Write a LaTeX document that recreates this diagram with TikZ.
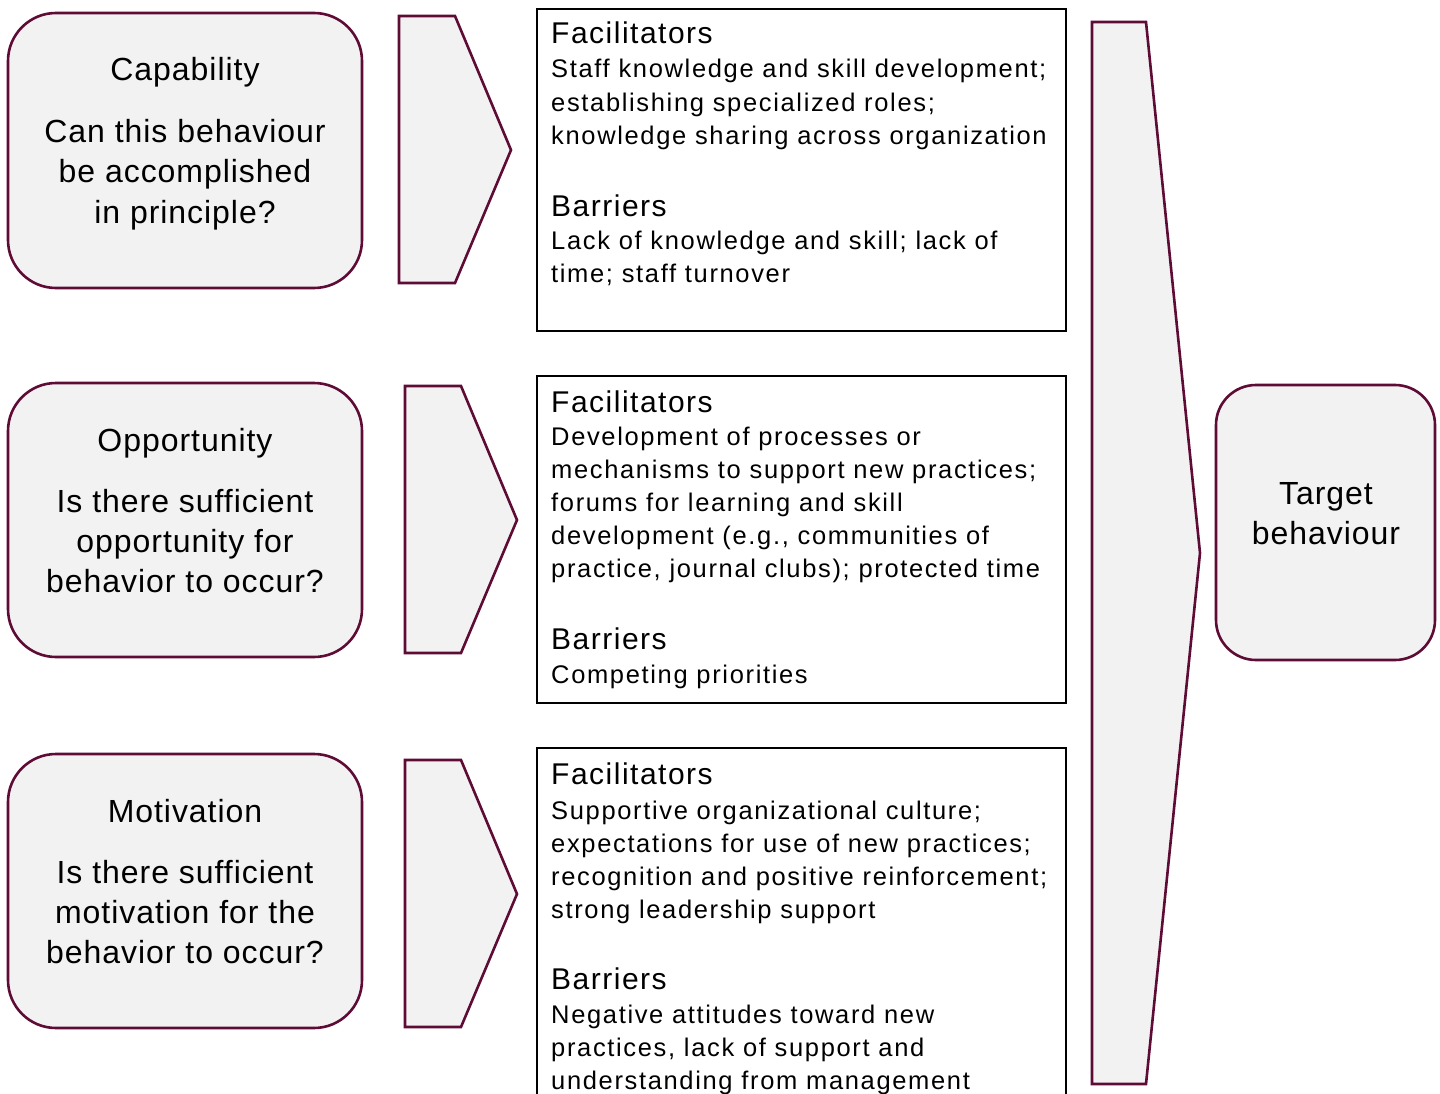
\documentclass[tikz,border=0pt]{standalone}
\usepackage{fontspec}
\setmainfont{Liberation Sans}
\newfontfamily\bodyfont[LetterSpace=6.5]{Liberation Sans}
\newfontfamily\headfont[LetterSpace=5]{Liberation Sans}
\newfontfamily\boxfont[LetterSpace=3]{Liberation Sans}
\definecolor{maroon}{HTML}{5E0B35}
\definecolor{panel}{HTML}{F2F2F2}
\tikzset{
  roundbox/.style={draw=maroon, fill=panel, line width=2.6pt, rounded corners=48pt},
  chevron/.style={draw=maroon, fill=panel, line width=2.6pt, line join=miter},
  textframe/.style={draw=black, line width=2pt},
  boxtxt/.style={inner sep=0pt, anchor=base, font=\boxfont\fontsize{32}{36}\selectfont},
  headtxt/.style={inner sep=0pt, anchor=base west, font=\headfont\fontsize{30}{34}\selectfont},
  bodytxt/.style={inner sep=0pt, anchor=base west, font=\bodyfont\fontsize{25.5}{30}\selectfont},
}
% stack of text lines: name prefix, x, first baseline, line step, style, lines
\newcommand\stacklines[6]{%
  \foreach \ln [count=\k] in {#6}
    \node[#5] (#1-\k) at (#2, {#3+(\k-1)*#4}) {\ln};%
}
\begin{document}
\begin{tikzpicture}[x=1pt, y=-1pt]
\useasboundingbox (0,0) rectangle (1440,1094);
\clip (0,0) rectangle (1440,1094);

% COM-B source boxes
\draw[roundbox] (8,13) rectangle (362,288);
\draw[roundbox] (8,383) rectangle (362,657);
\draw[roundbox] (8,754) rectangle (362,1028);
\stacklines{cap}{185}{81}{62}{boxtxt}{Capability}
\stacklines{capq}{185}{143}{40}{boxtxt}{Can this behaviour, be accomplished, in principle?}
\stacklines{opp}{185}{451}{62}{boxtxt}{Opportunity}
\stacklines{oppq}{185}{512}{40}{boxtxt}{Is there sufficient, opportunity for, behavior to occur?}
\stacklines{mot}{185}{822}{62}{boxtxt}{Motivation}
\stacklines{motq}{185}{883}{40}{boxtxt}{Is there sufficient, motivation for the, behavior to occur?}

% small chevrons
\draw[chevron] (399,16) -- (455,16) -- (511,150) -- (455,283) -- (399,283) -- cycle;
\draw[chevron] (405,386) -- (461,386) -- (517,520) -- (461,653) -- (405,653) -- cycle;
\draw[chevron] (405,760) -- (461,760) -- (517,894) -- (461,1027) -- (405,1027) -- cycle;

% facilitator / barrier frames
\draw[textframe] (537,9) rectangle (1066,331);
\draw[textframe] (537,376) rectangle (1066,703);
\draw[textframe] (537,748) rectangle (1066,1120);

\stacklines{f1}{551}{44}{0}{headtxt}{Facilitators}
\stacklines{f1b}{551}{78}{33.3}{bodytxt}{Staff knowledge and skill development;, establishing specialized roles;, knowledge sharing across organization}
\stacklines{b1}{551}{216}{0}{headtxt}{Barriers}
\stacklines{b1b}{551}{249}{33.3}{bodytxt}{Lack of knowledge and skill; lack of, time; staff turnover}

\stacklines{f2}{551}{412}{0}{headtxt}{Facilitators}
\stacklines{f2b}{551}{445}{33}{bodytxt}{Development of processes or, mechanisms to support new practices;, forums for learning and skill, development (e.g.{,} communities of, {practice, journal clubs); protected time}}
\stacklines{b2}{551}{649}{0}{headtxt}{Barriers}
\stacklines{b2b}{551}{683}{0}{bodytxt}{Competing priorities}

\stacklines{f3}{551}{784}{0}{headtxt}{Facilitators}
\stacklines{f3b}{551}{819}{33}{bodytxt}{Supportive organizational culture;, expectations for use of new practices;, recognition and positive reinforcement;, strong leadership support}
\stacklines{b3}{551}{989}{0}{headtxt}{Barriers}
\stacklines{b3b}{551}{1023}{33}{bodytxt}{Negative attitudes toward new, {practices, lack of support and}, understanding from management}

% converging chevron and outcome
\draw[chevron] (1092,22) -- (1146,22) -- (1200,553) -- (1146,1084) -- (1092,1084) -- cycle;
\draw[roundbox, rounded corners=40pt] (1216,385) rectangle (1435,660);
\stacklines{tgt}{1326}{504}{40}{boxtxt}{Target, behaviour}
\end{tikzpicture}
\end{document}
